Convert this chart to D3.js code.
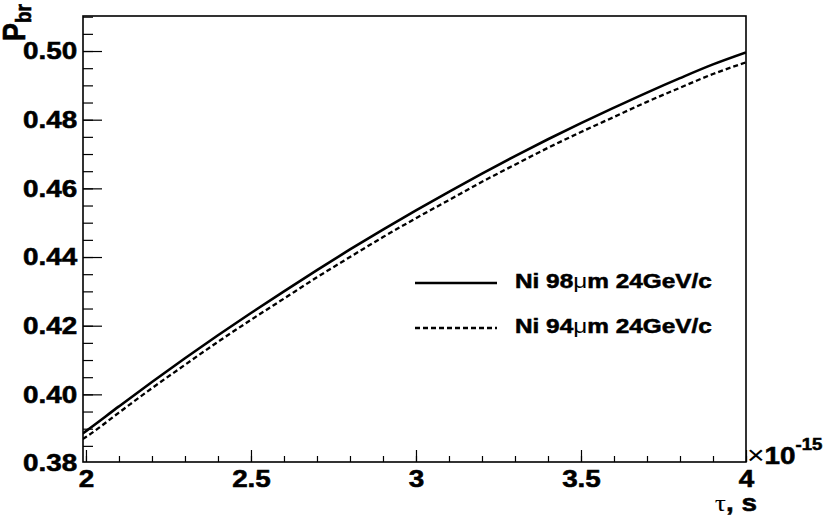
<!DOCTYPE html>
<html>
<head>
<meta charset="utf-8">
<script src="https://cdn.jsdelivr.net/npm/d3@7"></script>
<style>
  html, body { margin: 0; padding: 0; background: #fff; }
  svg { display: block; }
  text { font-family: "Liberation Sans", Arial, sans-serif; }
</style>
</head>
<body>
<svg id="chart" width="830" height="520"></svg>
<script>
// ---- data ----
const tau = [1.99, 2.0, 2.1, 2.2, 2.3, 2.4, 2.5, 2.6, 2.7, 2.8, 2.9, 3.0,
             3.1, 3.2, 3.3, 3.4, 3.5, 3.6, 3.7, 3.8, 3.9, 4.0];
const pNi98 = [0.3886, 0.3893, 0.3965, 0.4036, 0.4105, 0.4172, 0.4237, 0.4300, 0.4362, 0.4422, 0.4480, 0.4536,
               0.4590, 0.4643, 0.4694, 0.4743, 0.4790, 0.4835, 0.4879, 0.4921, 0.4961, 0.4996];
const pNi94 = [0.3870, 0.3876, 0.3947, 0.4018, 0.4086, 0.4153, 0.4217, 0.4279, 0.4341, 0.4400, 0.4458, 0.4513,
               0.4566, 0.4619, 0.4669, 0.4718, 0.4764, 0.4808, 0.4852, 0.4893, 0.4933, 0.4967];
const seriesNames = ["Ni 98", "Ni 94"];
const xMajorTicks = [2, 2.5, 3, 3.5, 4];
const xMinorTicks = d3.range(20, 41).map(d => d / 10);
const yMajorTicks = [0.38, 0.40, 0.42, 0.44, 0.46, 0.48, 0.50];
const yMinorTicks = d3.range(76, 103).map(d => d * 0.005);
const xExponent = "-15";

// ---- layout ----
const SX = 1.16; // horizontal stretch of all text
const L = 83, R = 746, T = 16, B = 462;
const BOLD_STROKE = 0.55;
const svg = d3.select("#chart");

const x = d3.scaleLinear().domain([1.991, 4]).range([L, R]);
const y = d3.scaleLinear().domain([0.3803, 0.5102]).range([B, T]);

function heavy(sel) {
  return sel.attr("stroke", "#000").attr("stroke-width", BOLD_STROKE).attr("paint-order", "stroke");
}

// clip
svg.append("clipPath").attr("id", "clip")
  .append("rect").attr("x", L).attr("y", T).attr("width", R - L).attr("height", B - T);

// minor ticks
svg.append("g").attr("transform", `translate(${L},0)`)
  .call(d3.axisLeft(y).tickValues(yMinorTicks.filter(v => v > 0.3805 && v < 0.5101)).tickSize(-10).tickFormat(""))
  .call(g => g.select(".domain").remove())
  .call(g => g.selectAll("line").attr("stroke", "#000").attr("stroke-width", 1.2));
svg.append("g").attr("transform", `translate(0,${B})`)
  .call(d3.axisBottom(x).tickValues(xMinorTicks).tickSize(-6).tickFormat(""))
  .call(g => g.select(".domain").remove())
  .call(g => g.selectAll("line").attr("stroke", "#000").attr("stroke-width", 1.2));

// major y axis
svg.append("g").attr("transform", `translate(${L},0)`)
  .call(d3.axisLeft(y).tickValues(yMajorTicks).tickSize(-19).tickPadding(5).tickFormat(d3.format(".2f")))
  .call(g => g.select(".domain").remove())
  .call(g => g.selectAll("line").attr("stroke", "#000").attr("stroke-width", 1.2)
      .attr("display", d => d < 0.3805 ? "none" : null))
  .call(g => heavy(g.selectAll("text").attr("fill", "#000").attr("font-size", 24).attr("font-weight", "bold")
      .attr("font-family", "Liberation Sans, Arial, sans-serif")
      .attr("transform", `scale(${SX},1)`)));

// major x axis
svg.append("g").attr("transform", `translate(0,${B})`)
  .call(d3.axisBottom(x).tickValues(xMajorTicks).tickSize(-12).tickPadding(8).tickFormat(d3.format("")))
  .call(g => g.select(".domain").remove())
  .call(g => g.selectAll("line").attr("stroke", "#000").attr("stroke-width", 1.2))
  .call(g => heavy(g.selectAll("text").attr("fill", "#000").attr("font-size", 24).attr("font-weight", "bold")
      .attr("font-family", "Liberation Sans, Arial, sans-serif")
      .attr("transform", `scale(${SX},1)`)));

// curves
const pts98 = tau.map((t, i) => [t, pNi98[i]]);
const pts94 = tau.map((t, i) => [t, pNi94[i]]);
const line = d3.line().x(d => x(d[0])).y(d => y(d[1])).curve(d3.curveMonotoneX);
const gc = svg.append("g").attr("clip-path", "url(#clip)");
gc.append("path").attr("d", line(pts98)).attr("fill", "none").attr("stroke", "#000").attr("stroke-width", 2.6);
gc.append("path").attr("d", line(pts94)).attr("fill", "none").attr("stroke", "#000").attr("stroke-width", 2.3)
  .attr("stroke-dasharray", "5,3");

// frame
svg.append("rect").attr("x", L).attr("y", T).attr("width", R - L).attr("height", B - T)
  .attr("fill", "none").attr("stroke", "#000").attr("stroke-width", 1.6);

// y title  P_br
const yt = svg.append("g").attr("transform", `translate(25,4) scale(${SX},1) rotate(-90)`)
  .append("text").attr("text-anchor", "end").attr("font-weight", "bold").attr("font-size", 27).attr("fill", "#000");
heavy(yt);
yt.append("tspan").text("P");
yt.append("tspan").attr("font-size", 19).attr("dy", 5).text("br");

// x title  τ, s
const xt = svg.append("g").attr("transform", `translate(757,511) scale(${SX},1)`)
  .append("text").attr("text-anchor", "end").attr("font-size", 24).attr("fill", "#000");
xt.append("tspan").attr("font-family", "Liberation Serif, serif").text("τ");
heavy(xt.append("tspan").attr("font-weight", "bold").text(", s"));

// exponent ×10^-15
const ex = svg.append("g").attr("transform", `translate(747,464) scale(${SX},1)`)
  .append("text").attr("font-size", 24).attr("fill", "#000");
ex.append("tspan").attr("font-size", 26).text("×");
heavy(ex.append("tspan").attr("font-weight", "bold").text("10"));
heavy(ex.append("tspan").attr("font-weight", "bold").attr("font-size", 16).attr("dy", -14).text(xExponent));

// legend
const legend = [
  { name: seriesNames[0], dash: null, w: 2.6, ly: 283, ty: 288 },
  { name: seriesNames[1], dash: "5,3", w: 2.3, ly: 328, ty: 333 }
];
legend.forEach(d => {
  svg.append("line").attr("x1", 415).attr("x2", 497).attr("y1", d.ly).attr("y2", d.ly)
    .attr("stroke", "#000").attr("stroke-width", d.w).attr("stroke-dasharray", d.dash);
  const t = svg.append("g").attr("transform", `translate(515,${d.ty}) scale(${SX},1)`)
    .append("text").attr("font-size", 21).attr("font-weight", "bold").attr("fill", "#000");
  heavy(t.append("tspan").text(d.name));
  t.append("tspan").attr("font-weight", "normal").text("μ");
  heavy(t.append("tspan").text("m 24GeV/c"));
});
</script>
</body>
</html>
